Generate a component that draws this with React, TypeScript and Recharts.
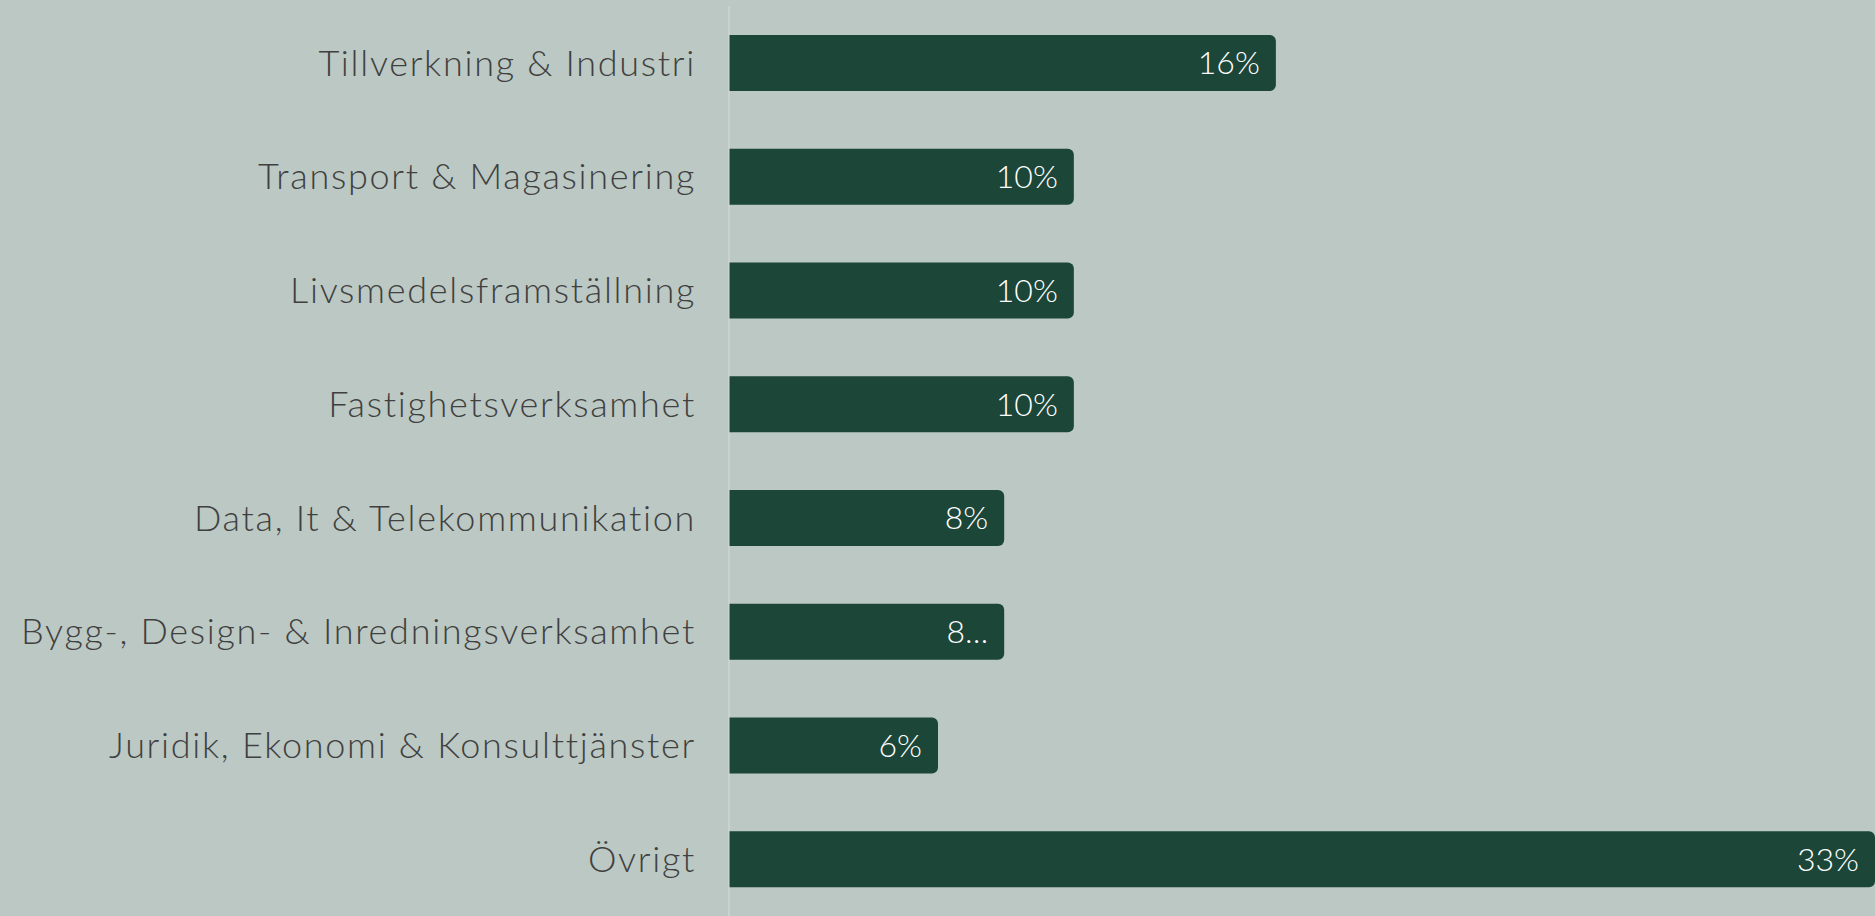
import { BarChart, Bar, XAxis, YAxis, LabelList } from "recharts"

const categories = [
  "Tillverkning & Industri",
  "Transport & Magasinering",
  "Livsmedelsframställning",
  "Fastighetsverksamhet",
  "Data, It & Telekommunikation",
  "Bygg-, Design- & Inredningsverksamhet",
  "Juridik, Ekonomi & Konsulttjänster",
  "Övrigt",
]

const shares = [15.7, 9.9, 9.9, 9.9, 7.9, 7.9, 6.0, 32.9]

// shown labels (one is cut off in the original)
const valueLabels = ["16%", "10%", "10%", "10%", "8%", "8…", "6%", "33%"]

const chartData = categories.map((name, i) => ({
  name,
  share: shares[i],
  label: valueLabels[i],
}))

const font = "Lato, 'Noto Sans', sans-serif"

export default function App() {
  return (
    <div style={{ width: 1875, height: 916, background: "#bcc8c3", fontFamily: font }}>
      <style>{`body { margin: 0; }`}</style>
      <BarChart
        width={1875}
        height={916}
        data={chartData}
        layout="vertical"
        margin={{ top: 6, right: 0, bottom: 0, left: 0 }}
      >
        <XAxis type="number" domain={[0, "dataMax"]} hide />
        <YAxis
          type="category"
          dataKey="name"
          width={729}
          tickLine={false}
          tickSize={0}
          tickMargin={33}
          axisLine={{ stroke: "#d6dcd9", strokeWidth: 1 }}
          tick={{ fill: "#404040", fontSize: 36, fontWeight: 300, fontFamily: font, letterSpacing: 1.7 }}
          interval={0}
        />
        <Bar
          dataKey="share"
          fill="#1b4638"
          barSize={56}
          radius={[0, 6, 6, 0]}
          isAnimationActive={false}
        >
          <LabelList
            dataKey="label"
            position="insideRight"
            offset={16}
            fill="#ffffff"
            fontSize={32}
            fontWeight={300}
            fontFamily={font}
          />
        </Bar>
      </BarChart>
    </div>
  )
}
